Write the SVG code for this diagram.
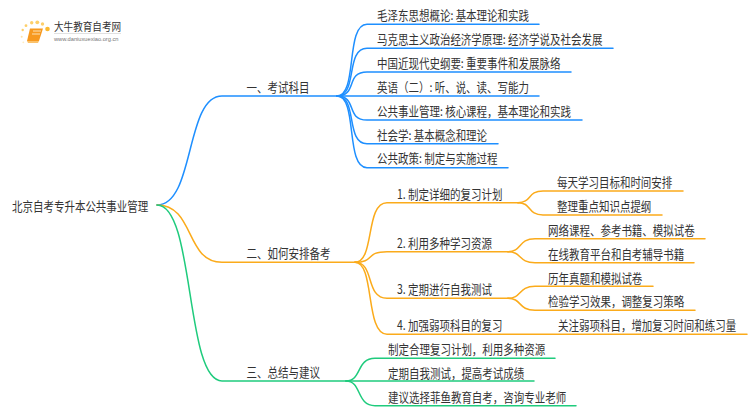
<svg xmlns="http://www.w3.org/2000/svg" width="750" height="410" viewBox="0 0 750 410">
<style>
text{font-family:"Noto Sans CJK SC","Liberation Sans",sans-serif;font-size:10.5px;fill:#333}
.c{fill:none;stroke-width:1.5;stroke-linecap:round}
.b{stroke:#1e8fff}.o{stroke:#fbab1b}.g{stroke:#1fcb7d}
</style>
<rect width="750" height="410" fill="#fff"/>
<g id="logo">
<g fill="#fdcf6a"><circle cx="47.500" cy="29" r="2.300" fill="#fbb92f"/><circle cx="42.500" cy="24" r="1.700"/><circle cx="37.300" cy="22.300" r="1.900"/><circle cx="31.700" cy="22.700" r="1.700"/><circle cx="26" cy="25.700" r="1.400"/><circle cx="22.700" cy="30" r="1.200"/><circle cx="21.700" cy="36.700" r="1" opacity=".6"/><circle cx="23.300" cy="42.300" r=".9" opacity=".4"/></g>
<path d="M30 28.500H43L39 41H27Z" fill="#f7991f"/><path d="M27 41H39L38 43H28Z" fill="#fbc26b"/><path d="M33 31H41M32 34H40" stroke="#fde2b5" stroke-width="1"/>
<text transform="matrix(1 0 0 1.150 54 30.500)" style="font-size:9.600px;fill:#333">大牛教育自考网</text>
<path d="M54 33.500H121" stroke="#ccc" stroke-width=".6"/>
<text x="54" y="40.500" style="font-size:5.700px;fill:#777;font-family:'Liberation Sans',sans-serif">www.daniuxuexiao.org.cn</text>
</g>
<g id="connectors">
<path class="c b" d="M157 205C195 205 185 96 222 96H337"/>
<path class="c o" d="M157 205C195 205 185 262.300 222 262.300H355"/>
<path class="c g" d="M157 205C195 205 185 381 222 381H346"/>
<path class="c b" d="M337 96C358 96 345 24.300 367 24.300H539"/>
<path class="c b" d="M337 96C358 96 345 48.300 367 48.300H613"/>
<path class="c b" d="M337 96C358 96 345 72 367 72H571"/>
<path class="c b" d="M337 96H539"/>
<path class="c b" d="M337 96C358 96 345 120 367 120H582"/>
<path class="c b" d="M337 96C358 96 345 143.700 367 143.700H498"/>
<path class="c b" d="M337 96C358 96 345 167.700 367 167.700H508"/>
<path class="c o" d="M355 262.300C375 262.300 365 202.700 387 202.700H518"/>
<path class="c o" d="M355 262.300C375 262.300 365 251.700 387 251.700H508"/>
<path class="c o" d="M355 262.300C375 262.300 365 298.300 387 298.300H508"/>
<path class="c o" d="M355 262.300C375 262.300 365 334.300 387 334.300H747"/>
<path class="c o" d="M518 202.700C532 202.700 527 191 543 191H683"/>
<path class="c o" d="M518 202.700C532 202.700 527 215 543 215H662"/>
<path class="c o" d="M508 251.700C522 251.700 518 238.700 535 238.700H705"/>
<path class="c o" d="M508 251.700C522 251.700 518 262.700 535 262.700H694"/>
<path class="c o" d="M508 298.300C522 298.300 518 286.300 535 286.300H653"/>
<path class="c o" d="M508 298.300C522 298.300 518 310.300 535 310.300H695"/>
<path class="c g" d="M346 381C362 381 356 358.300 375 358.300H555"/>
<path class="c g" d="M346 381H534"/>
<path class="c g" d="M346 381C362 381 356 405.700 375 405.700H576"/>
</g>
<g id="root"><text transform="matrix(1 0 0 1.200 12 210.500)">北京自考专升本公共事业管理</text></g>
<g id="n1"><text transform="matrix(1 0 0 1.200 246.500 91.500)">一、考试科目</text></g>
<g id="n2"><text transform="matrix(1 0 0 1.200 246.500 258)">二、如何安排备考</text></g>
<g id="n3"><text transform="matrix(1 0 0 1.200 246.500 376.500)">三、总结与建议</text></g>
<g id="n1-1"><text transform="matrix(1 0 0 1.200 377 20)">毛泽东思想概论: 基本理论和实践</text></g>
<g id="n1-2"><text transform="matrix(1 0 0 1.200 377 44)">马克思主义政治经济学原理: 经济学说及社会发展</text></g>
<g id="n1-3"><text transform="matrix(1 0 0 1.200 377 67.500)">中国近现代史纲要: 重要事件和发展脉络</text></g>
<g id="n1-4"><text transform="matrix(1 0 0 1.200 377 91.500)">英语（二）: 听、说、读、写能力</text></g>
<g id="n1-5"><text transform="matrix(1 0 0 1.200 377 115.500)">公共事业管理: 核心课程，基本理论和实践</text></g>
<g id="n1-6"><text transform="matrix(1 0 0 1.200 377 139.500)">社会学: 基本概念和理论</text></g>
<g id="n1-7"><text transform="matrix(1 0 0 1.200 377 163)">公共政策: 制定与实施过程</text></g>
<g id="n2-1"><text transform="matrix(1 0 0 1.200 397 199)">1. 制定详细的复习计划</text></g>
<g id="n2-2"><text transform="matrix(1 0 0 1.200 397 247.500)">2. 利用多种学习资源</text></g>
<g id="n2-3"><text transform="matrix(1 0 0 1.200 397 294)">3. 定期进行自我测试</text></g>
<g id="n2-4"><text transform="matrix(1 0 0 1.200 397 330)">4. 加强弱项科目的复习</text></g>
<g id="n2-1-1"><text transform="matrix(1 0 0 1.200 557 187)">每天学习目标和时间安排</text></g>
<g id="n2-1-2"><text transform="matrix(1 0 0 1.200 557 210.500)">整理重点知识点提纲</text></g>
<g id="n2-2-1"><text transform="matrix(1 0 0 1.200 548 235)">网络课程、参考书籍、模拟试卷</text></g>
<g id="n2-2-2"><text transform="matrix(1 0 0 1.200 548 258.500)">在线教育平台和自考辅导书籍</text></g>
<g id="n2-3-1"><text transform="matrix(1 0 0 1.200 548 282.500)">历年真题和模拟试卷</text></g>
<g id="n2-3-2"><text transform="matrix(1 0 0 1.200 548 306)">检验学习效果，调整复习策略</text></g>
<g id="n2-4-1"><text transform="matrix(1 0 0 1.200 558 330)">关注弱项科目，增加复习时间和练习量</text></g>
<g id="n3-1"><text transform="matrix(1 0 0 1.200 388 354)">制定合理复习计划，利用多种资源</text></g>
<g id="n3-2"><text transform="matrix(1 0 0 1.200 388 378)">定期自我测试，提高考试成绩</text></g>
<g id="n3-3"><text transform="matrix(1 0 0 1.200 388 401.500)">建议选择菲鱼教育自考，咨询专业老师</text></g>
</svg>
